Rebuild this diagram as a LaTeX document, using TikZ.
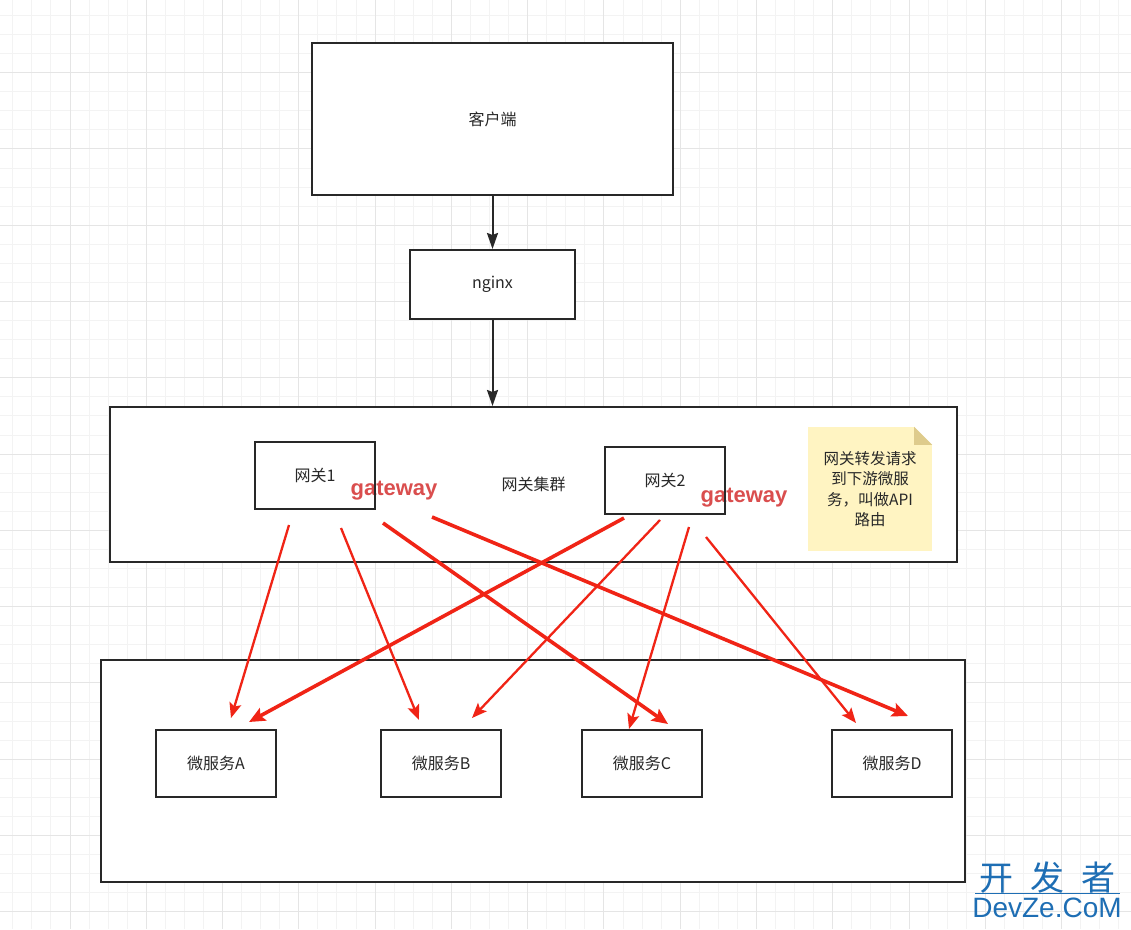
\documentclass[tikz,border=0pt]{standalone}
\usepackage{fontspec}
\newfontfamily\cjk{Noto Sans CJK SC}
\newfontfamily\gwfont{Liberation Sans}
\newfontfamily\wmfont{Liberation Sans}
\usetikzlibrary{arrows.meta}
\usetikzlibrary{positioning}

\definecolor{boxline}{RGB}{40,40,40}
\definecolor{gridminor}{RGB}{243,243,243}
\definecolor{gridmajor}{RGB}{229,229,229}
\definecolor{arrowred}{RGB}{240,36,22}
\definecolor{gwred}{RGB}{218,78,78}
\definecolor{notefill}{RGB}{255,244,194}
\definecolor{notefold}{RGB}{222,203,140}
\definecolor{wmblue}{RGB}{30,110,180}

\begin{document}
\begin{tikzpicture}[x=1pt,y=-1pt,
    box/.style={draw=boxline,line width=2pt,inner sep=0pt,text=boxline,font=\cjk\fontsize{16}{19}\selectfont},
    gwlabel/.style={text=gwred,font=\gwfont\bfseries\fontsize{22}{24}\selectfont},
    notebox/.style={fill=notefill,inner sep=0pt,minimum width=124pt,minimum height=124pt,align=center,text=boxline,font=\cjk\fontsize{15.5}{20.4}\selectfont},
    grayarrow/.style={draw=boxline,line width=2pt,-{Stealth[length=16pt,width=11pt,inset=2pt]}},
    redthin/.style={draw=arrowred,line width=2.3pt,-{Stealth[length=15pt,width=12pt,inset=3pt]}},
    redthick/.style={draw=arrowred,line width=3.6pt,-{Stealth[length=16pt,width=14pt,inset=3pt]}}]
        \useasboundingbox (0,0) rectangle (1131,929);
        \fill[white] (0,0) rectangle (1131,929);

        % grid
        \begin{scope}
        \clip (0,0) rectangle (1131,929);
        \foreach \i in {0,...,59} {\draw[gridminor,line width=1pt] ({12.8+19.07*\i},0) -- ({12.8+19.07*\i},929);}
        \foreach \j in {0,...,48} {\draw[gridminor,line width=1pt] (0,{15.5+19.07*\j}) -- (1131,{15.5+19.07*\j});}
        \foreach \i in {0,...,15} {\draw[gridmajor,line width=1pt] ({-6.28+76.28*\i},0) -- ({-6.28+76.28*\i},929);}
        \foreach \j in {0,...,13} {\draw[gridmajor,line width=1pt] (0,{-3.58+76.28*\j}) -- (1131,{-3.58+76.28*\j});}
        \end{scope}

        \node[box,fill=white,minimum width=361pt,minimum height=152pt] (client) at (492.5,119) {客户端};
        \node[box,fill=white,minimum width=165pt,minimum height=69pt] (nginx) at (492.5,284.5) {nginx};
        \node[box,fill=white,minimum width=847pt,minimum height=155pt] (cluster) at (533.5,484.5) {网关集群};
        \node[box,fill=white,minimum width=864pt,minimum height=222pt] (services) at (533,771) {};

        \draw[grayarrow] (client) -- (nginx);
        \draw[grayarrow] (nginx) -- (nginx.south |- cluster.north);

        \node[gwlabel] (gw1text) at (394,491) {gateway};
        \node[gwlabel] (gw2text) at (744,498) {gateway};

        \node[box,minimum width=120pt,minimum height=67pt] (gw1) at (315,475.5) {网关1};
        \node[box,minimum width=120pt,minimum height=67pt] (gw2) at (665,480.5) {网关2};

        \node[notebox] (note) at (870,489) {网关转发请求\\到下游微服\\务，叫做API\\路由};
        \fill[white] ([xshift=-18pt]note.north east) -- (note.north east) -- ([yshift=-18pt]note.north east) -- cycle;
        \fill[notefold] ([xshift=-18pt]note.north east) -- ([xshift=-18pt,yshift=-18pt]note.north east) -- ([yshift=-18pt]note.north east) -- cycle;

        \node[box,minimum width=120pt,minimum height=67pt] (msA) at (216,763.5) {微服务A};
        \node[box,minimum width=120pt,minimum height=67pt] (msB) at (441,763.5) {微服务B};
        \node[box,minimum width=120pt,minimum height=67pt] (msC) at (642,763.5) {微服务C};
        \node[box,minimum width=120pt,minimum height=67pt] (msD) at (892,763.5) {微服务D};

        % routes from the gateways
        \coordinate (gw1a) at (289,525);
        \coordinate (gw1b) at (341,528);
        \coordinate (gw1c) at (383,523);
        \coordinate (gw1d) at (432,517);
        \coordinate (gw2a) at (624,518);
        \coordinate (gw2b) at (660,520);
        \coordinate (gw2c) at (689,527);
        \coordinate (gw2d) at (706,537);
        \coordinate (toA1) at (231,718);
        \coordinate (toA2) at (249,722);
        \coordinate (toB1) at (419,720);
        \coordinate (toB2) at (472,718);
        \coordinate (toC1) at (668,724);
        \coordinate (toC2) at (629,729);
        \coordinate (toD1) at (908,716);
        \coordinate (toD2) at (856,723);

        \draw[redthin]  (gw1a) -- (toA1);
        \draw[redthin]  (gw1b) -- (toB1);
        \draw[redthick] (gw1c) -- (toC1);
        \draw[redthick] (gw1d) -- (toD1);
        \draw[redthick] (gw2a) -- (toA2);
        \draw[redthin]  (gw2b) -- (toB2);
        \draw[redthin]  (gw2c) -- (toC2);
        \draw[redthin]  (gw2d) -- (toD2);

        % watermark
        \node[text=wmblue,font=\cjk\fontsize{34}{36}\selectfont] (wmcn) at (1047,878) {开\hspace{17pt}发\hspace{17pt}者};
        \node[text=wmblue,font=\wmfont\fontsize{28}{30}\selectfont,inner sep=0pt] (wmen) at (1047,908) {DevZe.CoM};
        \draw[wmblue,line width=0.8pt] (975,893) -- (1120,893);
\end{tikzpicture}
\end{document}
